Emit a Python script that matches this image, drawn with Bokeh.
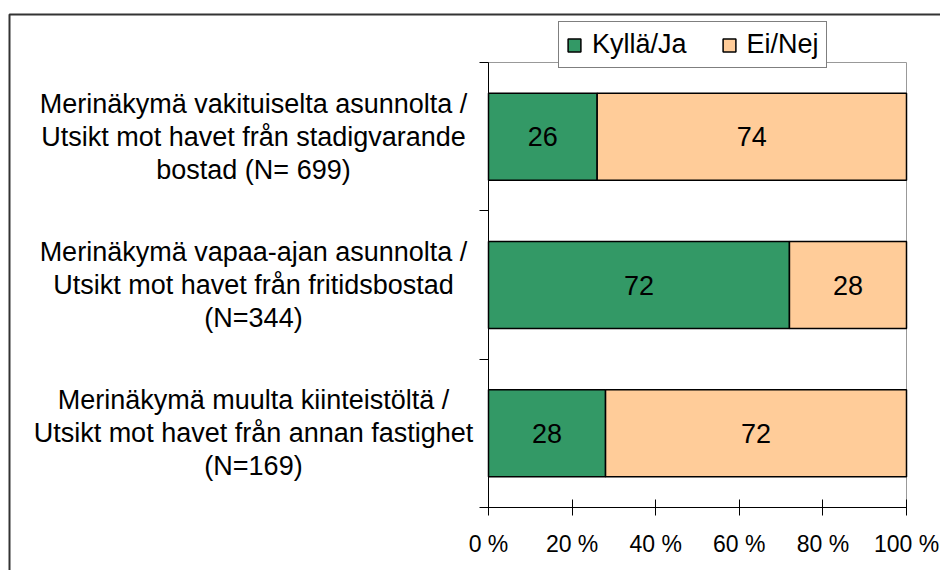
from bokeh.plotting import figure
from bokeh.models import (Range1d, FixedTicker, Legend, LegendItem,
                          ColumnDataSource, BoxAnnotation)
from bokeh.embed import file_html
from bokeh.resources import INLINE
from bokeh.core.properties import value

# ---- data ----
categories = [
    "Merinäkymä vakituiselta asunnolta /\nUtsikt mot havet från stadigvarande\nbostad (N= 699)",
    "Merinäkymä vapaa-ajan asunnolta /\nUtsikt mot havet från fritidsbostad\n(N=344)",
    "Merinäkymä muulta kiinteistöltä /\nUtsikt mot havet från annan fastighet\n(N=169)",
]
series_names = ["Kyllä/Ja", "Ei/Nej"]
yes_values = [26, 72, 28]
no_values = [74, 28, 72]
x_ticks = [0, 20, 40, 60, 80, 100]
x_tick_labels = ["0 %", "20 %", "40 %", "60 %", "80 %", "100 %"]

FONT = "Liberation Sans"
GREEN = "#339966"
ORANGE = "#FFCC99"

# ---- layout (page pixels) ----
W, H = 940, 570
PAGE0 = 0
PLOT_L, PLOT_R, PLOT_T, PLOT_B = 488, 906, 62, 507
n = len(categories)
xs = (PLOT_R - PLOT_L) / 100.0
ys = (PLOT_B - PLOT_T) / n
x_start = -(PLOT_L - PAGE0) / xs
x_end = 100 + (PAGE0 + W - PLOT_R) / xs
y_top = -(PLOT_T - PAGE0) / ys
y_bot = n + (PAGE0 + H - PLOT_B) / ys


def px2x(px):
    return (px - PLOT_L) / xs


def py2y(py):
    return (py - PLOT_T) / ys


ypos = [i + 0.5 for i in range(n)]
src = ColumnDataSource(dict(
    y=ypos,
    yes=yes_values,
    no=no_values,
    yes_mid=[v / 2 for v in yes_values],
    no_mid=[a + b / 2 for a, b in zip(yes_values, no_values)],
    yes_txt=[str(v) for v in yes_values],
    no_txt=[str(v) for v in no_values],
))
cat_src = ColumnDataSource(dict(x=[px2x(253)] * n, y=ypos, text=categories))

p = figure(width=W, height=H, x_range=Range1d(x_start, x_end),
           y_range=Range1d(y_bot, y_top),
           output_backend="svg", toolbar_location=None,
           min_border=0, min_border_left=0, min_border_right=0,
           min_border_top=0, min_border_bottom=0)
p.outline_line_color = None
p.xgrid.visible = False
p.ygrid.visible = False

# outer chart border (left & top visible)
p.add_layout(BoxAnnotation(left=px2x(9), top=py2y(14),
                           right=px2x(PAGE0 + W + 20), bottom=py2y(PAGE0 + H + 20),
                           fill_alpha=0, line_color="#333333", line_alpha=1,
                           line_width=2, level="underlay"))
# plot area border (gray)
p.add_layout(BoxAnnotation(left=0, right=100, top=0, bottom=n,
                           fill_alpha=0, line_color="#999999", line_alpha=1,
                           line_width=1, level="underlay"))

renderers = p.hbar_stack(["yes", "no"], y="y", height=0.587, source=src,
                         color=[GREEN, ORANGE], line_color="black",
                         line_width=1.5)

p.text(x="yes_mid", y="y", text="yes_txt", source=src, text_align="center",
       text_baseline="middle", text_font=value(FONT),
       text_font_size="27px", text_color="black")
p.text(x="no_mid", y="y", text="no_txt", source=src, text_align="center",
       text_baseline="middle", text_font=value(FONT),
       text_font_size="27px", text_color="black")

p.text(x="x", y="y", text="text", source=cat_src, text_align="center",
       text_baseline="middle", text_font=value(FONT),
       text_font_size="27px", text_color="black", text_line_height=1.1)

xa = p.xaxis[0]
xa.fixed_location = n
xa.bounds = (0, 100)
xa.ticker = FixedTicker(ticks=x_ticks)
xa.major_label_overrides = {t: l for t, l in zip(x_ticks, x_tick_labels)}
xa.major_tick_in = 8
xa.major_tick_out = 8
xa.minor_tick_line_color = None
xa.axis_line_color = "black"
xa.major_tick_line_color = "black"
xa.major_label_text_font = FONT
xa.major_label_text_font_size = "23px"
xa.major_label_text_color = "black"
xa.major_label_standoff = 15

ya = p.yaxis[0]
ya.fixed_location = 0
ya.bounds = (0, n)
ya.ticker = FixedTicker(ticks=list(range(n + 1)))
ya.major_label_overrides = {t: "" for t in range(n + 1)}
ya.major_tick_in = 0
ya.major_tick_out = 9
ya.minor_tick_line_color = None
ya.axis_line_color = "black"
ya.major_tick_line_color = "black"

legend = Legend(items=[LegendItem(label=series_names[0], renderers=[renderers[0]]),
                       LegendItem(label=series_names[1], renderers=[renderers[1]])],
                orientation="horizontal",
                location=(558 - PAGE0, PAGE0 + H - 68),
                label_text_font=FONT, label_text_font_size="27px",
                label_text_color="black",
                glyph_width=16, glyph_height=16, label_standoff=10,
                spacing=34, padding=7, margin=0,
                border_line_color="black", border_line_width=1,
                background_fill_color="white", background_fill_alpha=1)
p.add_layout(legend, "center")

open("out.html", "w").write(file_html(p, INLINE))
